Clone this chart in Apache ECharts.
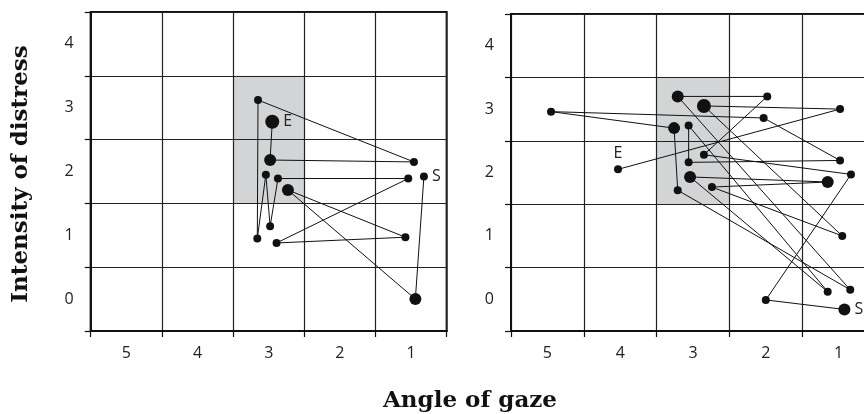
<!DOCTYPE html>
<html>
<head>
<meta charset="utf-8">
<script src="https://cdn.jsdelivr.net/npm/echarts@6/dist/echarts.min.js"></script>
<style>html,body{margin:0;padding:0;background:#fff}#c{width:864px;height:414px}</style>
</head>
<body>
<div id="c"></div>
<script>
// Tick labels
const xLabels = ['5', '4', '3', '2', '1'];
const yLabels = ['0', '1', '2', '3', '4'];

// Left panel: gaze path from S to E (angle of gaze, intensity of distress)
const leftX = [0.82, 0.94, 2.73, 1.08, 2.89, 1.04, 2.87, 2.98, 3.04, 3.16, 3.15, 0.96, 2.98, 2.95];
const leftY = [1.92, 0.00, 1.71, 0.97, 0.88, 1.89, 1.89, 1.14, 1.95, 0.95, 3.12, 2.15, 2.18, 2.78];
const leftLong = [0, 1, 1, 0, 0, 0, 0, 0, 0, 0, 0, 0, 1, 2];

// Right panel
const rightX = [0.92, 2.00, 0.83, 2.85, 1.98, 3.21, 0.84, 3.21, 3.26, 4.95, 2.03, 0.98, 3.06, 3.06, 1.15, 3.04, 1.15, 2.74, 0.95, 2.85, 0.98, 4.03];
const rightY = [-0.16, -0.01, 1.97, 2.28, 3.20, 3.20, 0.15, 1.72, 2.70, 2.96, 2.86, 2.19, 2.16, 2.74, 0.12, 1.93, 1.85, 1.77, 1.00, 3.05, 3.00, 2.05];
const rightLong = [1, 0, 0, 0, 0, 1, 0, 0, 1, 0, 0, 0, 0, 0, 0, 1, 1, 0, 0, 2, 0, 0];

// Shaded target zone [x1, y1, x2, y2]
const shadeBox = [3.5, 1.5, 2.5, 3.5];

const INK = '#111';
const sizeFor = [8, 12, 14];
const tickFont = 'Open Sans';

function pathData(xs, ys, longs, ePos) {
  return xs.map((x, i) => {
    const item = { value: [x, ys[i]], symbolSize: sizeFor[longs[i]] };
    if (i === 0) item.label = { show: true, formatter: 'S', position: 'right', distance: 4 };
    if (i === xs.length - 1) item.label = { show: true, formatter: 'E', position: ePos, distance: 4 };
    return item;
  });
}

const grids = [
  { left: 90.7, width: 356, top: 12, height: 319 },
  { left: 511, width: 364, top: 14, height: 317 }
];

const xAxes = [], yAxes = [], series = [];
grids.forEach((g, gi) => {
  xAxes.push({
    type: 'value', gridIndex: gi, inverse: true, min: 0.5, max: 5.5, interval: 1,
    position: 'bottom',
    axisLine: { show: true, onZero: false, lineStyle: { color: INK, width: 2 } },
    axisTick: { show: true, length: 6, lineStyle: { color: INK, width: 1.2 } },
    axisLabel: { show: false },
    splitLine: { show: true, lineStyle: { color: '#222', width: 1.2 } }
  });
  xAxes.push({
    type: 'category', gridIndex: gi, data: xLabels, position: 'bottom',
    axisLine: { show: false }, axisTick: { show: false }, splitLine: { show: false },
    axisLabel: { show: true, margin: 14, fontSize: 16, color: '#222', fontFamily: tickFont }
  });
  yAxes.push({
    type: 'value', gridIndex: gi, min: -0.5, max: 4.5, interval: 1,
    position: 'left',
    axisLine: { show: true, onZero: false, lineStyle: { color: INK, width: 2 } },
    axisTick: { show: true, length: 6, lineStyle: { color: INK, width: 1.2 } },
    axisLabel: { show: false },
    splitLine: { show: true, lineStyle: { color: '#222', width: 1.2 } }
  });
  yAxes.push({
    type: 'category', gridIndex: gi, data: yLabels, position: 'left',
    axisLine: { show: false }, axisTick: { show: false }, splitLine: { show: false },
    axisLabel: { show: true, margin: 17, fontSize: 16, color: '#222', fontFamily: tickFont }
  });
  series.push({
    type: 'custom', xAxisIndex: gi * 2, yAxisIndex: gi * 2, z: -1, silent: true,
    data: [shadeBox],
    encode: { x: [0, 2], y: [1, 3] },
    renderItem: function (params, api) {
      const p1 = api.coord([api.value(0), api.value(1)]);
      const p2 = api.coord([api.value(2), api.value(3)]);
      return {
        type: 'rect',
        shape: { x: Math.min(p1[0], p2[0]), y: Math.min(p1[1], p2[1]), width: Math.abs(p2[0] - p1[0]), height: Math.abs(p2[1] - p1[1]) },
        style: { fill: '#d3d4d6' }
      };
    }
  });
});

series.push({
  type: 'line', xAxisIndex: 0, yAxisIndex: 0, z: 5,
  data: pathData(leftX, leftY, leftLong, 'right'),
  symbol: 'circle', showSymbol: true, showAllSymbol: true,
  itemStyle: { color: INK }, lineStyle: { color: INK, width: 1 },
  label: { color: '#222', fontSize: 16, fontFamily: tickFont },
  emphasis: { disabled: true }
});
series.push({
  type: 'line', xAxisIndex: 2, yAxisIndex: 2, z: 5,
  data: pathData(rightX, rightY, rightLong, 'top'),
  symbol: 'circle', showSymbol: true, showAllSymbol: true,
  itemStyle: { color: INK }, lineStyle: { color: INK, width: 1 },
  label: { color: '#222', fontSize: 16, fontFamily: tickFont },
  emphasis: { disabled: true }
});

const chart = echarts.init(document.getElementById('c'), null, { renderer: 'canvas' });
chart.setOption({
  animation: false,
  backgroundColor: '#fff',
  grid: grids.map(g => Object.assign({
    show: true, borderColor: INK, borderWidth: 2, backgroundColor: 'transparent',
    containLabel: false, outerBoundsMode: 'none'
  }, g)),
  xAxis: xAxes,
  yAxis: yAxes,
  series: series,
  graphic: [
    {
      type: 'text', x: 21, y: 174, rotation: Math.PI / 2,
      style: { text: 'Intensity of distress', font: 'bold 23px "DejaVu Serif"', fill: INK, textAlign: 'center', textVerticalAlign: 'middle' }
    },
    {
      type: 'text', x: 470, y: 401,
      style: { text: 'Angle of gaze', font: 'bold 23px "DejaVu Serif"', fill: INK, textAlign: 'center', textVerticalAlign: 'middle' }
    }
  ]
});
</script>
</body>
</html>
